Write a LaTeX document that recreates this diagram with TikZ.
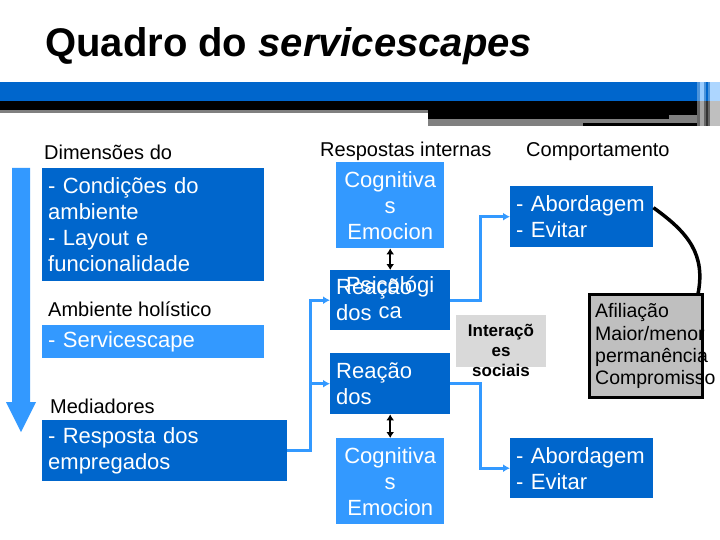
\documentclass[tikz,border=0pt]{standalone}
\usepackage{fontspec}
\setmainfont{Liberation Sans}
\usetikzlibrary{arrows.meta,positioning,calc}
\definecolor{darkblue}{RGB}{0,102,204}
\definecolor{lightblue}{RGB}{51,153,255}
\definecolor{intergray}{RGB}{217,217,217}
\definecolor{afilgray}{RGB}{191,191,191}

\tikzset{
  darkbox/.style={fill=darkblue, text=white, anchor=north west, align=left,
    inner xsep=6pt, inner ysep=1pt, font=\fontsize{22}{26}\selectfont},
  lightbox/.style={darkbox, fill=lightblue},
  cogbox/.style={lightbox, align=center, minimum width=108pt, text width=96pt, minimum height=86pt},
  heading/.style={anchor=base west, inner sep=0pt, font=\fontsize{20}{24}\selectfont},
  link/.style={-{Latex[length=7pt,width=8pt]}, draw=lightblue, line width=3pt},
  twoway/.style={{Latex[length=6pt,width=8pt]}-{Latex[length=6pt,width=8pt]}, line width=2pt},
}

\begin{document}
\begin{tikzpicture}[x=1pt,y=-1pt]
\useasboundingbox (0,0) rectangle (720,540);
% header bars
\fill[darkblue] (0,82) rectangle (700,101);
\fill[black] (0,101) rectangle (700,110);
\fill[gray] (0,110) rectangle (428,113);
\fill[black] (428,110) rectangle (700,115);
\fill[gray] (428,115) rectangle (700,126);
\fill[black] (428,115) rectangle (669,119);
\fill[black] (583,123) rectangle (708,126);
% stripes at the right end
\fill[darkblue!70!white] (697,82) rectangle (720,101);
\fill[black!60] (697,101) rectangle (720,126);
\fill[lightblue!50!white] (700,82) rectangle (704,101);
\fill[black!35] (700,101) rectangle (704,126);
\fill[darkblue] (706,82) rectangle (708,101);
\fill[black!80] (706,101) rectangle (708,126);
\fill[lightblue!40!white] (710,82) rectangle (720,101);
\fill[black!25] (710,101) rectangle (720,126);

\node[anchor=base west, inner sep=0pt, font=\bfseries\fontsize{40}{48}\selectfont] (title) at (45,57) {Quadro do \textit{servicescapes}};

% big arrow on the left
\fill[lightblue] (12,168) -- (30,168) -- (30,402) -- (36,402) -- (21,432) -- (6,402) -- (12,402) -- cycle;

% left column
\node[heading] (dimlabel) at (44,160) {Dimensões do};
\node[darkbox, minimum width=222pt, text width=210pt, minimum height=113pt] (dimbox) at (42,168) {- Condições do\\ambiente\\- Layout e\\funcionalidade};
\node[heading] (holist) at (48,316) {Ambiente holístico};
\node[lightbox, minimum width=222pt, text width=210pt, minimum height=33pt] (svcbox) at (42,325) {- Servicescape};
\node[heading] (medlabel) at (50,413) {Mediadores};
\node[darkbox, minimum width=245pt, text width=233pt, minimum height=61pt] (medbox) at (42,420) {- Resposta dos\\empregados};

% middle column
\node[heading] (resplabel) at (320,157) {Respostas internas};
\node[cogbox] (cog1) at (336,162) {Cognitiva\\s\\Emocion};
\node[darkbox, minimum width=120pt, text width=108pt, minimum height=60pt] (reac1) at (330,270) {Reação\\dos};
\node[text=white, align=center, text width=108pt, inner sep=0pt, font=\fontsize{22}{26}\selectfont] (psic) at ($(reac1.center)+(0,-3)$) {Psicológi\\ca};
\node[darkbox, minimum width=120pt, text width=108pt, minimum height=61pt] (reac2) at (330,353) {Reação\\dos};
\node[cogbox] (cog2) at (336,438) {Cognitiva\\s\\Emocion};
\draw[twoway] (cog1.south) -- (reac1.north);
\draw[twoway] (reac2.south) -- (cog2.north);

\node[fill=intergray, anchor=north west, minimum width=90pt, minimum height=52pt, inner sep=0pt] (inter) at (456,315) {};
\node[anchor=north, inner sep=0pt, align=center, font=\bfseries\fontsize{17}{20}\selectfont] (intertext) at (501,324.5) {Interaçõ\\es\\sociais};

% right column
\node[heading] (complabel) at (526,157) {Comportamento};
\node[darkbox, minimum width=143pt, text width=131pt, minimum height=61pt] (abord1) at (510,186) {- Abordagem\\- Evitar};
\node[darkbox, minimum width=143pt, text width=131pt, minimum height=60pt] (abord2) at (510,438) {- Abordagem\\- Evitar};
\node[fill=afilgray, anchor=north west, minimum width=113pt, minimum height=103pt, inner sep=0pt] (afil) at (589.5,294.5) {};
\node[anchor=north west, inner sep=0pt, align=left, font=\fontsize{19.5}{22.3}\selectfont] (afiltext) at (595,303.5) {Afiliação\\Maior/menor\\permanência\\Compromisso};
\draw[line width=3pt] (afil.north west) rectangle (afil.south east);
\draw[line width=3.5pt] ([yshift=9pt]abord1.east) .. controls +(35,25) and +(8,-40) .. ([xshift=-5pt]afil.north east);

% connectors
\coordinate (split) at ($(medbox.east)+(23,0)$);
\draw[link] (medbox.east) -- (split) |- (reac1.west);
\draw[link] (split) |- (reac2.west);
\draw[link] (reac1.east) -- ++(30,0) |- (abord1.west);
\draw[link] (reac2.east) -- ++(30,0) |- (abord2.west);
\end{tikzpicture}
\end{document}
